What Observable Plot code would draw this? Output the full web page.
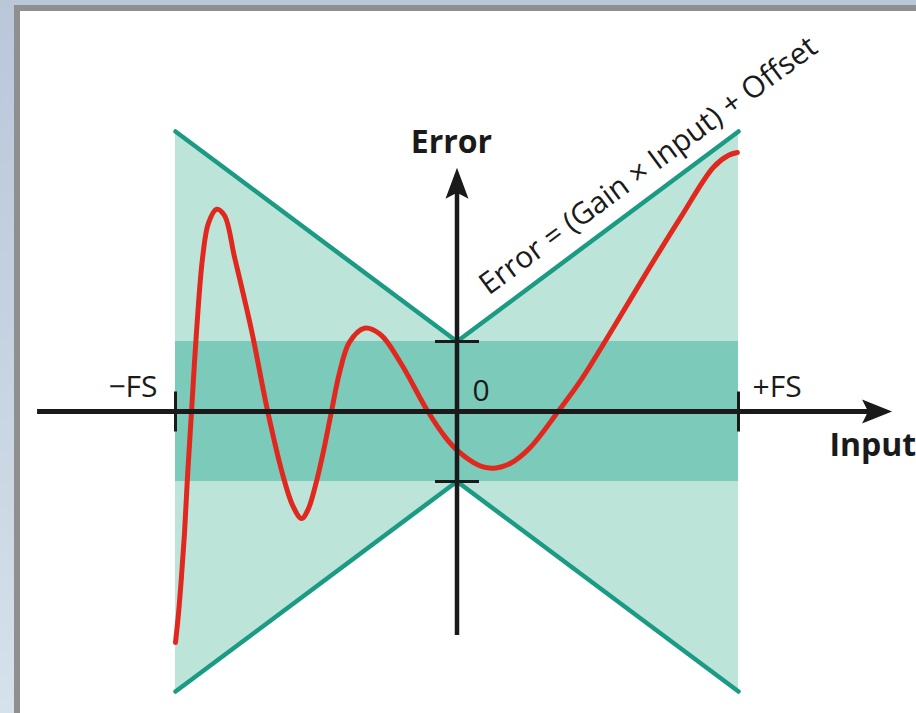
<!DOCTYPE html>
<html>
<head>
<meta charset="utf-8">
<script src="https://cdn.jsdelivr.net/npm/d3@7"></script>
<script src="https://cdn.jsdelivr.net/npm/@observablehq/plot@0.6"></script>
<style>
  html, body { margin: 0; padding: 0; }
  body {
    width: 916px; height: 713px; overflow: hidden; position: relative;
    background: linear-gradient(180deg, #b9c7d9 0%, #c6d3e1 50%, #d5e2ea 100%);
  }
  #frame {
    position: absolute; left: 14px; top: 5px; width: 1000px; height: 800px;
    background: #ffffff; border-left: 6px solid #8f8f8f; border-top: 6px solid #8f8f8f;
  }
  #chart { position: absolute; left: 0; top: 0; }
</style>
</head>
<body>
<div id="frame"></div>
<div id="chart"></div>
<script>
// ---- Data (Input in units of full scale, Error in units of Offset) ----
const fsInput = [-1, 0, 1];
const envelopeTop = [4, 1, 4];       // Error = +(Gain × |Input|) + Offset
const envelopeBottom = [-4, -1, -4]; // Error = -(Gain × |Input|) - Offset
const offsetBand = [{x1: -1, x2: 1, y1: -1, y2: 1}];

const curveInput = [
  -1.000, -0.989, -0.979, -0.968, -0.957, -0.943, -0.925, -0.904, -0.883, -0.854,
  -0.826, -0.790, -0.730, -0.673, -0.620, -0.584, -0.552,
  -0.528, -0.503, -0.474, -0.446, -0.417, -0.382, -0.329,
  -0.272, -0.201, -0.105, -0.041, 0.002, 0.073, 0.130,
  0.190, 0.261, 0.361, 0.439, 0.556, 0.677, 0.794, 0.911, 0.965, 0.996];
const curveError = [
  -3.30, -2.87, -2.37, -1.74, -0.91, 0.01, 1.16, 2.19, 2.69, 2.89,
  2.80, 2.20, 1.16, 0.01, -0.89, -1.34, -1.53,
  -1.39, -1.06, -0.56, 0.00, 0.56, 0.99, 1.19,
  1.10, 0.70, 0.01, -0.37, -0.56, -0.76, -0.81,
  -0.74, -0.51, 0.01, 0.44, 1.20, 2.01, 2.77, 3.49, 3.66, 3.70];

// axes extents
const xAxisRange = [-1.49, 1.51];
const yAxisRange = [-3.2, 3.34];
const xTickValues = [-1, 1];
const yTickValues = [-1, 1];

// labels
const boldLabels = [{t: "Error", x: -0.02, y: 3.686}, {t: "Input", x: 1.323, y: -0.629}];
const leftLabels = [{t: "\u2212FS", x: -1.064, y: 0.214}];
const rightLabels = [{t: "+FS", x: 1.050, y: 0.214}, {t: "0", x: 0.055, y: 0.157}];
const equation = [{t: "Error = (Gain \u00d7 Input) + Offset", x: 0.700, y: 3.40}];

// ---- Symbols ----
const arrowRight = {draw(ctx) { ctx.moveTo(10, 0); ctx.lineTo(-20, -12); ctx.lineTo(-14, 0); ctx.lineTo(-20, 12); ctx.closePath(); }};
const arrowUp = {draw(ctx) { ctx.moveTo(0, -10); ctx.lineTo(-11.5, 21); ctx.lineTo(0, 15); ctx.lineTo(11.5, 21); ctx.closePath(); }};
const hTick = {draw(ctx) { ctx.moveTo(-22, 0); ctx.lineTo(22, 0); }};
const vTick = {draw(ctx) { ctx.moveTo(0, -20); ctx.lineTo(0, 20); }};

const envelope = fsInput.map((x, i) => ({x, top: envelopeTop[i], bottom: envelopeBottom[i]}));
const curve = curveInput.map((x, i) => ({x, y: curveError[i]}));

const teal = "#1c9b84", lightTeal = "#bde4d9", midTeal = "#7ccaba", red = "#e0281f", ink = "#1a1a1a";

const chart = Plot.plot({
  width: 916, height: 713,
  marginTop: 0, marginRight: 0, marginBottom: 0, marginLeft: 0,
  x: {domain: [-456.5 / 281.5, 459.5 / 281.5], axis: null},
  y: {domain: [-302 / 70, 411 / 70], axis: null},
  style: {background: "transparent", fontFamily: "'Open Sans', sans-serif"},
  marks: [
    Plot.areaY(envelope, {x: "x", y1: "bottom", y2: "top", fill: lightTeal}),
    Plot.rect(offsetBand, {x1: "x1", x2: "x2", y1: "y1", y2: "y2", fill: midTeal}),
    Plot.line(envelope, {x: "x", y: "top", stroke: teal, strokeWidth: 4.5, strokeLinecap: "round"}),
    Plot.line(envelope, {x: "x", y: "bottom", stroke: teal, strokeWidth: 4.5, strokeLinecap: "round"}),
    Plot.line(curve, {x: "x", y: "y", stroke: red, strokeWidth: 5, curve: "catmull-rom", strokeLinecap: "round"}),
    Plot.ruleY([0], {x1: xAxisRange[0], x2: xAxisRange[1], stroke: ink, strokeWidth: 5}),
    Plot.ruleX([0], {y1: yAxisRange[0], y2: yAxisRange[1], stroke: ink, strokeWidth: 4.5}),
    Plot.dot([xAxisRange[1]], {x: d => d, y: 0, symbol: arrowRight, r: 1, fill: ink, stroke: null}),
    Plot.dot([yAxisRange[1]], {x: 0, y: d => d, symbol: arrowUp, r: 1, fill: ink, stroke: null}),
    Plot.dot(yTickValues, {x: 0, y: d => d, symbol: hTick, r: 1, fill: "none", stroke: ink, strokeWidth: 3}),
    Plot.dot(xTickValues, {x: d => d, y: 0, symbol: vTick, r: 1, fill: "none", stroke: ink, strokeWidth: 3}),
    Plot.text(boldLabels.slice(0, 1), {x: "x", y: "y", text: "t", textAnchor: "middle", lineAnchor: "bottom", fontSize: 32, fontWeight: "bold", fill: ink}),
    Plot.text(boldLabels.slice(1), {x: "x", y: "y", text: "t", textAnchor: "start", lineAnchor: "bottom", fontSize: 32, fontWeight: "bold", fill: ink}),
    Plot.text(leftLabels, {x: "x", y: "y", text: "t", textAnchor: "end", lineAnchor: "bottom", fontSize: 30, fill: ink}),
    Plot.text(rightLabels, {x: "x", y: "y", text: "t", textAnchor: "start", lineAnchor: "bottom", fontSize: 30, fill: ink}),
    Plot.text(equation, {x: "x", y: "y", text: "t", rotate: -36.5, textAnchor: "middle", lineAnchor: "bottom", fontSize: 30, fill: ink})
  ]
});
document.getElementById("chart").appendChild(chart);
</script>
</body>
</html>
